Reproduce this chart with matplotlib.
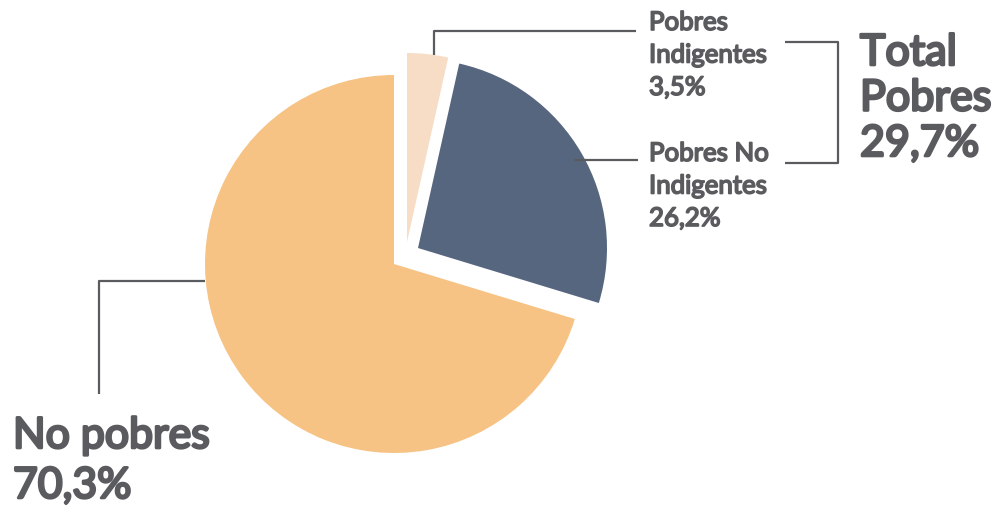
import matplotlib.pyplot as plt
import matplotlib.patheffects as pe

labels = ['Pobres Indigentes', 'Pobres No Indigentes', 'No pobres']
shares = [3.5, 26.2, 70.3]
total_pobres = 29.7
colors = ['#F7DDC6', '#57667F', '#F6C384']
gray = '#5A5B5E'

W, H = 998, 509
fig = plt.figure(figsize=(W / 100, H / 100), dpi=100)
ax = fig.add_axes([0, 0, 1, 1])

cx, cy, r = 394, H - 264, 189
wedges, _ = ax.pie(shares, colors=colors, startangle=90, counterclock=False,
                   center=(cx, cy), radius=r, frame=True,
                   wedgeprops=dict(linewidth=0))
# pull the two "pobres" slices out
shifts = [(13, 22), (24, 16), (0, 0)]
for w, (dx, dy) in zip(wedges, shifts):
    w.set_center((cx + dx, cy + dy))

ax.set_xlim(0, W)
ax.set_ylim(0, H)
ax.set_aspect('equal')
ax.axis('off')

def fmt(v):
    return f'{v:.1f}'.replace('.', ',') + '%'

def line(xs, ys):
    ax.plot(xs, [H - y for y in ys], color=gray, lw=1.6, solid_capstyle='butt')

# leader lines
line([434, 434, 636], [55, 31, 31])
line([574, 638], [160, 160])
line([785, 838, 838, 785], [42, 42, 163, 163])
line([205, 99, 99], [281, 281, 394])

# only the regular Lato face is installed, so fake the bold with a stroke
def block(x, y_top, lines, size, step, stroke):
    for i, t in enumerate(lines):
        ax.text(x, H - (y_top + i * step), t, fontsize=size, va='top', ha='left',
                family=['Lato', 'DejaVu Sans'], color=gray,
                path_effects=[pe.withStroke(linewidth=stroke, foreground=gray)])

block(649, 10, ['Pobres', 'Indigentes', fmt(shares[0])], 18.6, 32.5, 1.2)
block(649, 141, ['Pobres No', 'Indigentes', fmt(shares[1])], 18.6, 32.5, 1.2)
block(860, 34, ['Total', 'Pobres', fmt(total_pobres)], 31, 45.5, 1.9)
block(13, 417, ['No pobres', fmt(shares[2])], 30.8, 50, 1.9)

fig.savefig('out.png', dpi=100)
